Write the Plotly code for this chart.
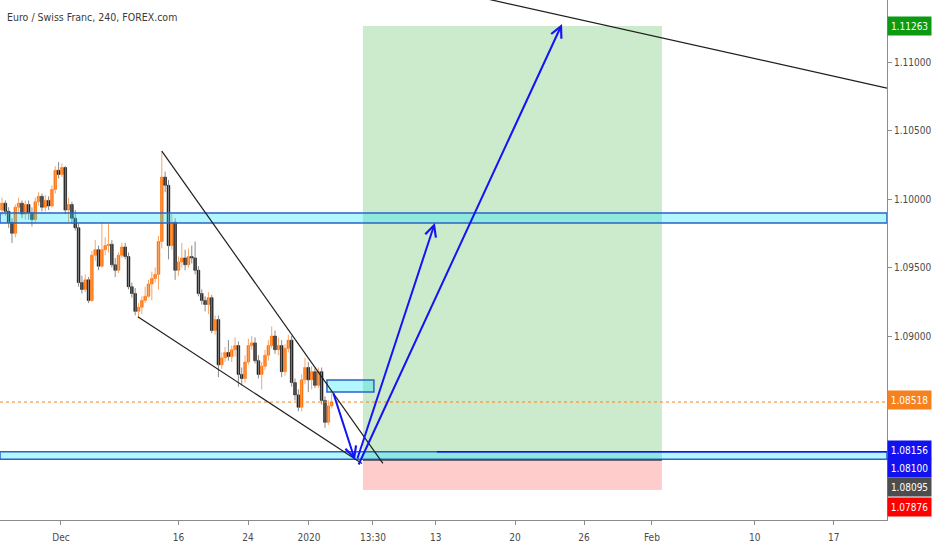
import plotly.graph_objects as go

# ---------------- data ----------------
title_text = "Euro / Swiss Franc, 240, FOREX.com"

bars = list(range(100))
opens = [1.0992, 1.0997, 1.0991, 1.0983, 1.0975, 1.0994, 1.0997, 1.0989, 1.0996, 1.0990,
         1.0985, 1.0998, 1.1002, 1.0994, 1.0999, 1.0995, 1.1007, 1.1021, 1.1018, 1.1023,
         1.0992, 1.0996, 1.0986, 1.0979, 1.0939, 1.0934, 1.0941, 1.0926, 1.0959, 1.0963,
         1.0951, 1.0963, 1.0966, 1.0967, 1.0952, 1.0948, 1.0959, 1.0965, 1.0958, 1.0936,
         1.0931, 1.0918, 1.0921, 1.0926, 1.0929, 1.0938, 1.0942, 1.0945, 1.0969, 1.1016,
         1.1010, 1.0966, 1.0983, 1.0948, 1.0954, 1.0957, 1.0952, 1.0958, 1.0957, 1.0948,
         1.0931, 1.0926, 1.0923, 1.0928, 1.0904, 1.0912, 1.0879, 1.0884, 1.0888, 1.0885,
         1.0890, 1.0893, 1.0872, 1.0869, 1.0881, 1.0893, 1.0895, 1.0882, 1.0872, 1.0878,
         1.0886, 1.0893, 1.0900, 1.0890, 1.0893, 1.0874, 1.0891, 1.0897, 1.0866, 1.0857,
         1.0848, 1.0868, 1.0877, 1.0868, 1.0874, 1.0864, 1.0874, 1.0853, 1.0837, 1.0849]
highs = [1.1001, 1.0999, 1.0994, 1.0986, 1.0996, 1.1001, 1.0999, 1.0999, 1.0999, 1.0994,
         1.1001, 1.1005, 1.1004, 1.1003, 1.1002, 1.1010, 1.1024, 1.1027, 1.1026, 1.1024,
         1.1001, 1.0998, 1.0992, 1.0982, 1.0944, 1.0945, 1.0943, 1.0962, 1.0970, 1.0966,
         1.0983, 1.0972, 1.0982, 1.0970, 1.0957, 1.0961, 1.0968, 1.0968, 1.0961, 1.0939,
         1.0935, 1.0924, 1.0929, 1.0936, 1.0941, 1.0947, 1.0950, 1.0973, 1.1035, 1.1020,
         1.1014, 1.0989, 1.0986, 1.0958, 1.0968, 1.0963, 1.0964, 1.0966, 1.0969, 1.0951,
         1.0934, 1.0929, 1.0932, 1.0930, 1.0915, 1.0915, 1.0888, 1.0892, 1.0897, 1.0893,
         1.0899, 1.0896, 1.0877, 1.0886, 1.0898, 1.0900, 1.0899, 1.0886, 1.0881, 1.0890,
         1.0897, 1.0907, 1.0904, 1.0899, 1.0897, 1.0894, 1.0901, 1.0900, 1.0869, 1.0861,
         1.0872, 1.0884, 1.0881, 1.0878, 1.0877, 1.0877, 1.0877, 1.0856, 1.0853, 1.0858]
lows = [1.0988, 1.0988, 1.0979, 1.0968, 1.0972, 1.0989, 1.0986, 1.0985, 1.0985, 1.0980,
        1.0982, 1.0995, 1.0991, 1.0991, 1.0992, 1.0994, 1.1004, 1.1015, 1.1016, 1.0989,
        1.0983, 1.0982, 1.0977, 1.0936, 1.0931, 1.0932, 1.0924, 1.0925, 1.0955, 1.0948,
        1.0950, 1.0959, 1.0961, 1.0950, 1.0943, 1.0946, 1.0957, 1.0956, 1.0934, 1.0928,
        1.0915, 1.0913, 1.0916, 1.0924, 1.0928, 1.0926, 1.0939, 1.0934, 1.0964, 1.1005,
        1.0956, 1.0963, 1.0941, 1.0944, 1.0950, 1.0948, 1.0950, 1.0953, 1.0945, 1.0929,
        1.0923, 1.0918, 1.0916, 1.0902, 1.0901, 1.0870, 1.0876, 1.0881, 1.0882, 1.0881,
        1.0885, 1.0863, 1.0864, 1.0866, 1.0879, 1.0890, 1.0880, 1.0869, 1.0861, 1.0875,
        1.0882, 1.0891, 1.0887, 1.0886, 1.0870, 1.0871, 1.0888, 1.0863, 1.0853, 1.0845,
        1.0845, 1.0865, 1.0859, 1.0861, 1.0862, 1.0862, 1.0850, 1.0833, 1.0835, 1.0847]
closes = [1.0997, 1.0991, 1.0983, 1.0975, 1.0994, 1.0997, 1.0989, 1.0996, 1.0990, 1.0985,
          1.0998, 1.1002, 1.0994, 1.0999, 1.0995, 1.1007, 1.1021, 1.1018, 1.1023, 1.0992,
          1.0996, 1.0986, 1.0979, 1.0939, 1.0934, 1.0941, 1.0926, 1.0959, 1.0963, 1.0951,
          1.0963, 1.0966, 1.0967, 1.0952, 1.0948, 1.0959, 1.0965, 1.0958, 1.0936, 1.0931,
          1.0918, 1.0921, 1.0926, 1.0929, 1.0938, 1.0942, 1.0945, 1.0969, 1.1016, 1.1010,
          1.0966, 1.0983, 1.0948, 1.0954, 1.0957, 1.0952, 1.0958, 1.0957, 1.0948, 1.0931,
          1.0926, 1.0923, 1.0928, 1.0904, 1.0912, 1.0879, 1.0884, 1.0888, 1.0885, 1.0890,
          1.0893, 1.0872, 1.0869, 1.0881, 1.0893, 1.0895, 1.0882, 1.0872, 1.0878, 1.0886,
          1.0893, 1.0900, 1.0890, 1.0893, 1.0874, 1.0891, 1.0897, 1.0866, 1.0857, 1.0848,
          1.0868, 1.0877, 1.0868, 1.0874, 1.0864, 1.0874, 1.0853, 1.0837, 1.0849, 1.08518]

tick_bars = [17.7, 53.0, 73.9, 92.2, 111.4, 130.3, 154.1, 174.8, 195.2, 226.1, 249.8]
tick_labels = ["Dec", "16", "24", "2020", "13:30", "13", "20", "26", "Feb", "10", "17"]
price_ticks = [1.09, 1.095, 1.10, 1.105, 1.11]

# drawings (bar index, price)
upper_zone = [1.09825, 1.09898]
lower_zone = [1.08100, 1.08156]
ray_start = 130.6
last_price = 1.08518
pos_bars = [108.4, 198.2]
target_price, entry_price, stop_price = 1.11263, 1.08095, 1.07876
small_box_bars = [97.6, 111.7]
small_box_prices = [1.08592, 1.08679]
trend_upper = [(48.0, 1.1035), (114.4, 1.0807)]
trend_lower = [(40.8, 1.0914), (108.1, 1.0807)]
long_line = [(120.0, 1.1160), (265.8, 1.1081)]
arrows = [((99.4, 1.08592), (106.0, 1.08095)),
          ((106.6, 1.08095), (130.0, 1.09825)),
          ((106.9, 1.08051), (168.2, 1.11278))]

# right-hand price labels: value, colour, vertical offset in px
price_labels = [(1.11263, "#0b9a10", 0), (1.08518, "#f5821f", 2),
                (1.08156, "#1212f0", 2), (1.08100, "#1212f0", -9),
                (1.08095, "#4d4d4d", -27), (1.07876, "#ff0000", -17)]

x_range = [-0.6, 265.8]
y_range = [1.07657, 1.11453]

FONT = "DejaVu Sans Condensed, Liberation Sans, sans-serif"
UP, DOWN = "#ff6d00", "#111111"
UP_WICK, DOWN_WICK = "#f9a566", "#8a8a8a"

fig = go.Figure()

# wicks (drawn beneath the bodies, lighter like the reference)
for is_up, colr in ((True, UP_WICK), (False, DOWN_WICK)):
    wx, wy = [], []
    for b, o, h, l, c in zip(bars, opens, highs, lows, closes):
        if (c >= o) == is_up:
            wx += [b, b, None]
            wy += [l, h, None]
    fig.add_trace(go.Scatter(x=wx, y=wy, mode="lines", line=dict(color=colr, width=1),
                             hoverinfo="skip", showlegend=False))

# bodies only (wick extent limited to the body so the lighter wicks stay visible)
body_top = [max(o, c) for o, c in zip(opens, closes)]
body_bot = [min(o, c) for o, c in zip(opens, closes)]
fig.add_trace(go.Candlestick(
    x=bars, open=opens, high=body_top, low=body_bot, close=closes,
    increasing=dict(line=dict(color=UP, width=0.6), fillcolor=UP),
    decreasing=dict(line=dict(color=DOWN, width=0.6), fillcolor=DOWN),
    whiskerwidth=0, hoverinfo="skip", showlegend=False))

shapes = []
# position tool
shapes.append(dict(type="rect", xref="x", yref="y", x0=pos_bars[0], x1=pos_bars[1],
                   y0=entry_price, y1=target_price, fillcolor="rgba(0,150,0,0.2)",
                   line=dict(width=0), layer="below"))
shapes.append(dict(type="rect", xref="x", yref="y", x0=pos_bars[0], x1=pos_bars[1],
                   y0=stop_price, y1=entry_price, fillcolor="rgba(255,0,0,0.2)",
                   line=dict(width=0), layer="below"))
# zones
for z in (upper_zone, lower_zone):
    shapes.append(dict(type="rect", xref="x", yref="y", x0=x_range[0], x1=x_range[1],
                       y0=z[0], y1=z[1], fillcolor="rgba(0,229,255,0.3)",
                       line=dict(color="#2b63c6", width=1.5), layer="above"))
shapes.append(dict(type="rect", xref="x", yref="y", x0=small_box_bars[0], x1=small_box_bars[1],
                   y0=small_box_prices[0], y1=small_box_prices[1],
                   fillcolor="rgba(0,229,255,0.3)", line=dict(color="#2b63c6", width=1.5),
                   layer="above"))
# blue ray and entry line
shapes.append(dict(type="line", xref="x", yref="y", x0=ray_start, x1=x_range[1],
                   y0=lower_zone[1], y1=lower_zone[1], line=dict(color="#1010ff", width=1.5)))
shapes.append(dict(type="line", xref="x", yref="y", x0=pos_bars[0], x1=pos_bars[1],
                   y0=entry_price, y1=entry_price, line=dict(color="#3c4650", width=1.5)))
# last price dotted line
shapes.append(dict(type="line", xref="x", yref="y", x0=x_range[0], x1=x_range[1],
                   y0=last_price, y1=last_price, line=dict(color="#f5821f", width=1, dash="dot")))
# trend lines
for ln in (trend_upper, trend_lower, long_line):
    shapes.append(dict(type="line", xref="x", yref="y", x0=ln[0][0], y0=ln[0][1],
                       x1=ln[1][0], y1=ln[1][1], line=dict(color="#1e1e1e", width=1.2)))

annotations = []
for (tail, head) in arrows:
    annotations.append(dict(x=head[0], y=head[1], ax=tail[0], ay=tail[1], xref="x", yref="y",
                            axref="x", ayref="y", text="", showarrow=True, arrowhead=5,
                            arrowsize=1.1, arrowwidth=2, arrowcolor="#1414f5", standoff=0))
annotations.append(dict(x=0, y=1, xref="paper", yref="paper", xanchor="left", yanchor="top",
                        xshift=5, yshift=-9, text=title_text, showarrow=False,
                        font=dict(family=FONT, size=10.5, color="#3a3a3a")))
for val, col, dy in price_labels:
    annotations.append(dict(x=1, y=val, xref="paper", yref="y", xanchor="left", yanchor="middle",
                            yshift=dy, text=f"{val:.5f}", showarrow=False, bgcolor=col,
                            width=40, height=15, borderpad=1.5, align="center",
                            font=dict(family=FONT, size=10, color="#ffffff")))

fig.update_layout(
    width=932, height=550, autosize=False,
    margin=dict(l=0, r=45, t=0, b=30),
    paper_bgcolor="#ffffff", plot_bgcolor="#ffffff",
    shapes=shapes, annotations=annotations,
    boxgap=0.2, boxgroupgap=0,
    showlegend=False,
    font=dict(family=FONT, size=10, color="#4a4a4a"),
    xaxis=dict(range=x_range, tickvals=tick_bars, ticktext=tick_labels, showgrid=False,
               zeroline=False, showline=True, linecolor="#8c8c8c", linewidth=1,
               ticks="outside", ticklen=4, tickcolor="#8c8c8c", ticklabelstandoff=4,
               rangeslider=dict(visible=False), fixedrange=True),
    yaxis=dict(range=y_range, side="right", tickvals=price_ticks,
               ticktext=[f"{v:.5f}" for v in price_ticks], showgrid=False, zeroline=False,
               showline=True, linecolor="#8c8c8c", linewidth=1, ticks="outside", ticklen=4,
               tickcolor="#8c8c8c", fixedrange=True),
)

fig.write_html("out.html", config={"displayModeBar": False},
               post_script="document.body.style.margin='0';document.body.style.padding='0';")
